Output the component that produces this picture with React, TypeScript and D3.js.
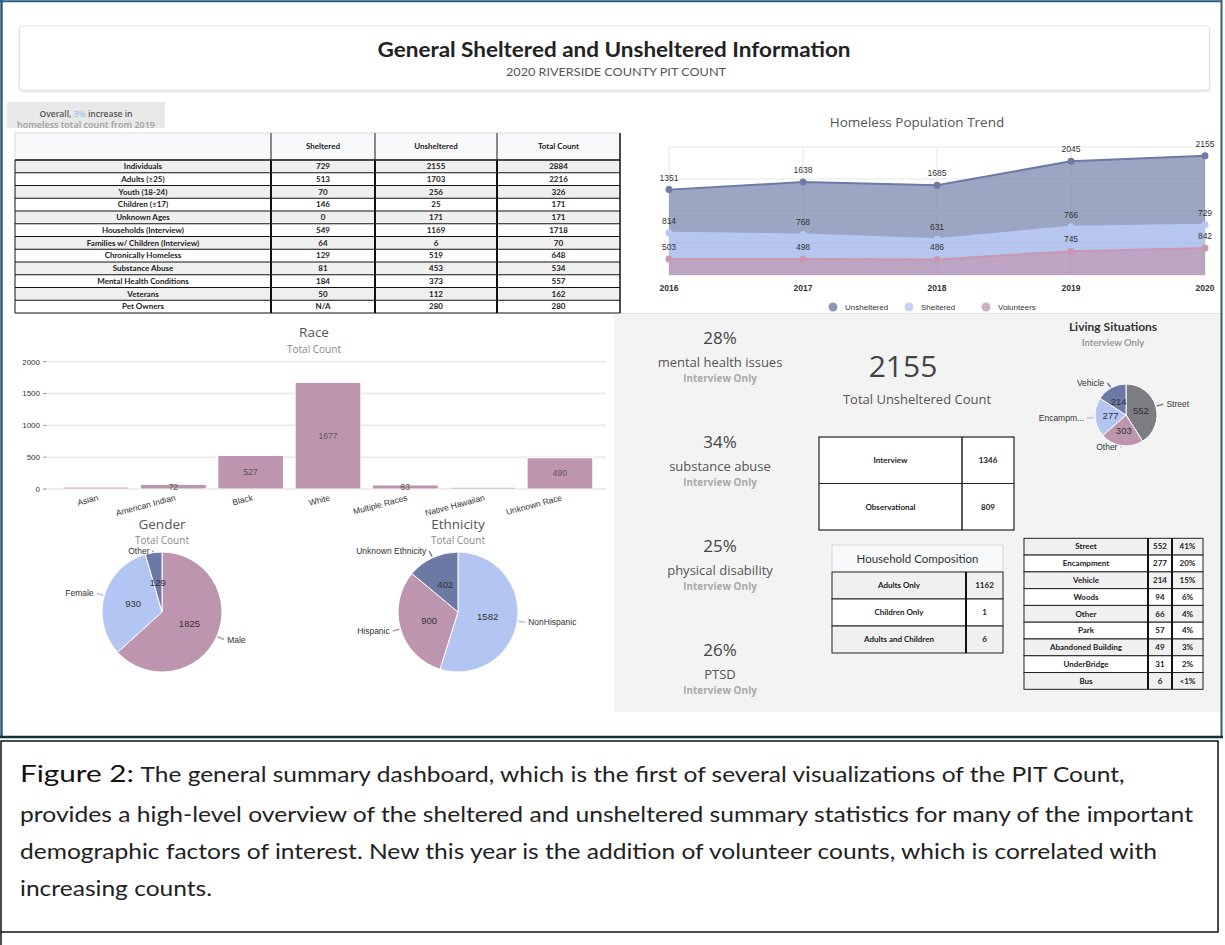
import React from "react";
import * as d3 from "d3";

// ---------- DATA ----------
const tableRowLabels = [
  "Individuals", "Adults (≥25)", "Youth (18-24)", "Children (≤17)", "Unknown Ages",
  "Households (Interview)", "Families w/ Children (Interview)", "Chronically Homeless",
  "Substance Abuse", "Mental Health Conditions", "Veterans", "Pet Owners",
];
const tableHeaders = ["", "Sheltered", "Unsheltered", "Total Count"];
const tableSheltered = ["729", "513", "70", "146", "0", "549", "64", "129", "81", "184", "50", "N/A"];
const tableUnsheltered = [2155, 1703, 256, 25, 171, 1169, 6, 519, 453, 373, 112, 280];
const tableTotal = [2884, 2216, 326, 171, 171, 1718, 70, 648, 534, 557, 162, 280];

const trendYears = [2016, 2017, 2018, 2019, 2020];
const trendUnsheltered = [1351, 1638, 1685, 2045, 2155];
const trendSheltered = [814, 768, 631, 766, 729];
const trendVolunteers = [503, 498, 486, 745, 842];
const trendYTicks = [0, 1000, 2000, 3000, 4000];

const raceCategories = ["Asian", "American Indian", "Black", "White", "Multiple Races", "Native Hawaiian", "Unknown Race"];
const raceValues = [30, 72, 527, 1677, 63, 27, 490];
const raceYTicks = [0, 500, 1000, 1500, 2000];

const genderLabels = ["Male", "Female", "Other"];
const genderValues = [1825, 930, 129];

const ethnicityLabels = ["NonHispanic", "Hispanic", "Unknown Ethnicity"];
const ethnicityValues = [1582, 900, 402];

const livingPieLabels = ["Street", "Other", "Encampment", "Vehicle"];
const livingPieValues = [552, 303, 277, 214];

const livingTableLabels = ["Street", "Encampment", "Vehicle", "Woods", "Other", "Park", "Abandoned Building", "UnderBridge", "Bus"];
const livingTableCounts = [552, 277, 214, 94, 66, 57, 49, 31, 6];
const livingTablePct = ["41%", "20%", "15%", "6%", "4%", "4%", "3%", "2%", "<1%"];

const statPercents = ["28%", "34%", "25%", "26%"];
const statLabels = ["mental health issues", "substance abuse", "physical disability", "PTSD"];

const unshelteredTotal = 2155;
const interviewLabels = ["Interview", "Observational"];
const interviewValues = [1346, 809];

const householdLabels = ["Adults Only", "Children Only", "Adults and Children"];
const householdValues = [1162, 1, 6];

const captionLines = [
  "The general summary dashboard, which is the first of several visualizations of the PIT Count,",
  "provides a high-level overview of the sheltered and unsheltered summary statistics for many of the important",
  "demographic factors of interest. New this year is the addition of volunteer counts, which is correlated with",
  "increasing counts.",
];

// ---------- STYLE ----------
const HC = "'Liberation Sans', Arial, sans-serif";
const UI = "'Open Sans', sans-serif";
const LATO = "Lato, sans-serif";
const PINK = "#be95af";
const LBLUE = "#b3c5f2";
const SLATE = "#6c79a4";
const GRAYPIE = "#7c7c83";
const FRAME = "#2c5d80";

function Pie(props: {
  cx: number; cy: number; r: number; labels: string[]; values: number[]; colors: string[];
  fontSize: number; offset: number;
}) {
  const { cx, cy, r, labels, values, colors, fontSize, offset } = props;
  const arcs = d3.pie<number>().sort(null).value((d) => d)(values);
  const arcGen = d3.arc<d3.PieArcDatum<number>>().innerRadius(0).outerRadius(r);
  const minY = cy - r - 1;
  const maxY = cy + r + 1;
  return (
    <g>
      {arcs.map((a, i) => (
        <path key={"s" + i} d={arcGen(a) || ""} transform={`translate(${cx},${cy})`} fill={colors[i]} stroke="#fff" strokeWidth={1} />
      ))}
      {arcs.map((a, i) => {
        const [x, y] = arcGen.centroid(a);
        return (
          <text key={"v" + i} x={cx + x} y={cy + y} dy="0.35em" textAnchor="middle" fontFamily={HC} fontSize={fontSize} fill="#333">
            {values[i]}
          </text>
        );
      })}
      {arcs.map((a, i) => {
        const m = (a.startAngle + a.endAngle) / 2;
        const s = Math.sin(m);
        const c = -Math.cos(m);
        const p1 = [cx + s * (r + 1), cy + c * (r + 1)];
        const p2 = [cx + s * (r + offset), Math.min(maxY, Math.max(minY, cy + c * (r + offset)))];
        const right = s >= 0;
        const tx = p2[0] + (right ? 3 : -3);
        const lbl = labels[i].length > 9 && r < 40 ? labels[i].slice(0, 7) + "..." : labels[i];
        return (
          <g key={"l" + i}>
            <path d={`M${p1[0]},${p1[1]}L${p2[0]},${p2[1]}`} stroke={colors[i]} strokeWidth={1.5} fill="none" />
            <text x={tx} y={p2[1]} dy="0.35em" textAnchor={right ? "start" : "end"} fontFamily={HC} fontSize={fontSize - 1} fill="#333">
              {lbl}
            </text>
          </g>
        );
      })}
    </g>
  );
}

function MainTable() {
  const colX = [15, 271, 375, 497, 620];
  const top = 133, headBot = 160, rowH = 12.75;
  const n = tableRowLabels.length;
  const bottom = headBot + n * rowH;
  const centers = colX.slice(0, 4).map((x, i) => (x + colX[i + 1]) / 2);
  const cols = [tableRowLabels, tableSheltered, tableUnsheltered.map(String), tableTotal.map(String)];
  return (
    <g fontFamily={LATO} fontWeight={700} fontSize={8} fill="#222">
      <rect x={colX[0]} y={top} width={colX[4] - colX[0]} height={headBot - top} fill="#f8f9fb" stroke="#dcdcdc" strokeWidth={1} />
      {tableHeaders.map((h, i) => (
        <text key={"h" + i} x={centers[i]} y={(top + headBot) / 2} dy="0.35em" textAnchor="middle">{h}</text>
      ))}
      {[1, 2, 3].map((i) => (
        <line key={"hv" + i} x1={colX[i]} x2={colX[i]} y1={top} y2={headBot} stroke="#8a8a8a" strokeWidth={2} />
      ))}
      {tableRowLabels.map((_, r) => (
        <rect key={"r" + r} x={colX[0]} y={headBot + r * rowH} width={colX[4] - colX[0]} height={rowH} fill={r % 2 === 0 ? "#efefef" : "#ffffff"} />
      ))}
      {d3.range(n + 1).map((r) => (
        <line key={"hl" + r} x1={colX[0]} x2={colX[4]} y1={headBot + r * rowH} y2={headBot + r * rowH} stroke="#111" strokeWidth={r === 0 ? 1.5 : 1} />
      ))}
      {[1, 2, 3].map((i) => (
        <line key={"v" + i} x1={colX[i]} x2={colX[i]} y1={headBot} y2={bottom} stroke="#111" strokeWidth={2} />
      ))}
      <line x1={colX[0]} x2={colX[0]} y1={headBot} y2={bottom} stroke="#111" strokeWidth={1} />
      <line x1={colX[4]} x2={colX[4]} y1={top} y2={bottom} stroke="#111" strokeWidth={1.5} />
      {cols.map((col, c) =>
        col.map((v, r) => (
          <text key={c + "-" + r} x={centers[c]} y={headBot + r * rowH + rowH / 2} dy="0.35em" textAnchor="middle">{v}</text>
        ))
      )}
    </g>
  );
}

function TrendChart() {
  const xs = d3.scalePoint<number>().domain(trendYears).range([669, 1205]);
  const ys = d3.scaleLinear().domain([0, 4000]).range([275, 147]);
  const rows = trendYears.map((y, i) => ({
    year: y, volunteers: trendVolunteers[i], sheltered: trendSheltered[i], unsheltered: trendUnsheltered[i],
  }));
  const keys = ["volunteers", "sheltered", "unsheltered"];
  const stacked = d3.stack<any>().keys(keys)(rows);
  const colors: Record<string, { line: string; fill: string; legend: string }> = {
    unsheltered: { line: "#6d79a6", fill: "#7b88af", legend: "#8d96b9" },
    sheltered: { line: "#b5c8f5", fill: "#9db3ea", legend: "#c6d4f7" },
    volunteers: { line: "#c897b1", fill: "#a585ad", legend: "#d2b0c3" },
  };
  const rawVals: Record<string, number[]> = { unsheltered: trendUnsheltered, sheltered: trendSheltered, volunteers: trendVolunteers };
  const area = d3.area<any>().x((d: any) => xs(d.data.year)!).y0((d: any) => ys(d[0])).y1((d: any) => ys(d[1]));
  const line = d3.line<any>().x((d: any) => xs(d.data.year)!).y((d: any) => ys(d[1]));
  const legendItems = [
    { key: "unsheltered", name: "Unsheltered", x: 833 },
    { key: "sheltered", name: "Sheltered", x: 909 },
    { key: "volunteers", name: "Volunteers", x: 986 },
  ];
  return (
    <g>
      <text x={917} y={122} dy="0.35em" textAnchor="middle" fontFamily={UI} fontSize={13.5} fill="#555">Homeless Population Trend</text>
      {trendYTicks.map((t) => (
        <line key={"g" + t} x1={669} x2={1205} y1={ys(t)} y2={ys(t)} stroke="#e6e6e6" strokeWidth={1} />
      ))}
      {trendYears.map((y) => (
        <line key={"vg" + y} x1={xs(y)} x2={xs(y)} y1={147} y2={275} stroke="#e6e6e6" strokeWidth={1} />
      ))}
      {stacked.map((s) => (
        <path key={"a" + s.key} d={area(s as any) || ""} fill={colors[s.key].fill} fillOpacity={0.75} />
      ))}
      {stacked.map((s) => (
        <path key={"l" + s.key} d={line(s as any) || ""} fill="none" stroke={colors[s.key].line} strokeWidth={2} />
      ))}
      {stacked.map((s) =>
        s.map((d: any, i: number) => (
          <circle key={s.key + i} cx={xs(d.data.year)} cy={ys(d[1])} r={3.5} fill={colors[s.key].line} />
        ))
      )}
      {stacked.map((s) =>
        s.map((d: any, i: number) => (
          <text key={"t" + s.key + i} x={xs(d.data.year)} y={ys(d[1]) - 12} dy="0.35em" textAnchor="middle" fontFamily={HC} fontSize={8.5} fill="#333">
            {rawVals[s.key][i]}
          </text>
        ))
      )}
      {trendYears.map((y) => (
        <text key={"x" + y} x={xs(y)} y={288} dy="0.35em" textAnchor="middle" fontFamily={HC} fontSize={8.5} fontWeight={700} fill="#333">{y}</text>
      ))}
      {legendItems.map((it) => (
        <g key={"lg" + it.key}>
          <circle cx={it.x} cy={307} r={4.5} fill={colors[it.key].legend} />
          <text x={it.x + 12} y={307} dy="0.35em" fontFamily={HC} fontSize={8} fill="#333">{it.name}</text>
        </g>
      ))}
    </g>
  );
}

function RaceChart() {
  const xb = d3.scaleBand<string>().domain(raceCategories).range([57, 599]).paddingInner(0.15).paddingOuter(0.08);
  const y = d3.scaleLinear().domain([0, 2000]).range([489, 361.7]);
  return (
    <g>
      <text x={314} y={332} dy="0.35em" textAnchor="middle" fontFamily={UI} fontSize={13.5} fill="#555">Race</text>
      <text x={314} y={349} dy="0.35em" textAnchor="middle" fontFamily={UI} fontSize={10} fill="#888">Total Count</text>
      {raceYTicks.map((t) => (
        <g key={"yt" + t}>
          <line x1={48} x2={606} y1={y(t)} y2={y(t)} stroke="#ececec" strokeWidth={2} />
          <line x1={43} x2={47} y1={y(t)} y2={y(t)} stroke="#999" strokeWidth={1} />
          <text x={40} y={y(t)} dy="0.35em" textAnchor="end" fontFamily={HC} fontSize={8} fill="#333">{t}</text>
        </g>
      ))}
      {raceCategories.map((c, i) => (
        <rect key={"b" + c} x={xb(c)} y={y(raceValues[i])} width={xb.bandwidth()} height={y(0) - y(raceValues[i])} fill={PINK} stroke="#fff" strokeWidth={1} />
      ))}
      {raceCategories.map((c, i) =>
        raceValues[i] >= 50 ? (
          <text key={"bl" + c} x={xb(c)! + xb.bandwidth() / 2} y={(y(raceValues[i]) + y(0)) / 2} dy="0.35em" textAnchor="middle" fontFamily={HC} fontSize={8.5} fill="#555">
            {raceValues[i]}
          </text>
        ) : null
      )}
      {raceCategories.map((c) => (
        <text key={"xl" + c} transform={`translate(${xb(c)! + xb.bandwidth() / 2 + 1},${494}) rotate(-15)`} dy="0.75em" textAnchor="end" fontFamily={HC} fontSize={8.5} fill="#333">
          {c}
        </text>
      ))}
    </g>
  );
}

function GenderEthnicity() {
  return (
    <g>
      <text x={162} y={524} dy="0.35em" textAnchor="middle" fontFamily={UI} fontSize={13.5} fill="#555">Gender</text>
      <text x={162} y={540} dy="0.35em" textAnchor="middle" fontFamily={UI} fontSize={10} fill="#888">Total Count</text>
      <Pie cx={162} cy={612} r={60} labels={genderLabels} values={genderValues} colors={[PINK, LBLUE, SLATE]} fontSize={9.5} offset={8} />
      <text x={458} y={524} dy="0.35em" textAnchor="middle" fontFamily={UI} fontSize={13.5} fill="#555">Ethnicity</text>
      <text x={458} y={540} dy="0.35em" textAnchor="middle" fontFamily={UI} fontSize={10} fill="#888">Total Count</text>
      <Pie cx={458} cy={612} r={60} labels={ethnicityLabels} values={ethnicityValues} colors={[LBLUE, PINK, SLATE]} fontSize={9.5} offset={8} />
    </g>
  );
}

function RightPanel() {
  const statY = [338, 442, 546, 650];
  const ivX = [819, 962, 1014];
  const ivY = [437, 483.5, 530];
  const hcX = [832, 966, 1003];
  const hcTop = 545, hcHead = 572, hcRow = 27;
  const ltX = [1024, 1148, 1172, 1203];
  const ltTop = 538.3, ltRow = 16.78;
  return (
    <g>
      <rect x={614} y={314} width={607} height={398} fill="#f3f3f3" />
      {statPercents.map((p, i) => (
        <g key={"st" + i}>
          <text x={720} y={statY[i]} dy="0.35em" textAnchor="middle" fontFamily={UI} fontSize={17} fill="#444">{p}</text>
          <text x={720} y={statY[i] + 24} dy="0.35em" textAnchor="middle" fontFamily={UI} fontSize={13} fill="#555">{statLabels[i]}</text>
          <text x={720} y={statY[i] + 40} dy="0.35em" textAnchor="middle" fontFamily={UI} fontSize={10} fontWeight={700} fill="#aaa">Interview Only</text>
        </g>
      ))}
      <text x={903} y={366} dy="0.35em" textAnchor="middle" fontFamily={UI} fontSize={30} fill="#444">{unshelteredTotal}</text>
      <text x={917} y={399} dy="0.35em" textAnchor="middle" fontFamily={UI} fontSize={13} fill="#555">Total Unsheltered Count</text>

      {/* interview table */}
      <g fontFamily={LATO} fontWeight={700} fontSize={8} fill="#222">
        <rect x={ivX[0]} y={ivY[0]} width={ivX[2] - ivX[0]} height={ivY[2] - ivY[0]} fill="#fff" stroke="#222" strokeWidth={1.2} />
        <line x1={ivX[0]} x2={ivX[2]} y1={ivY[1]} y2={ivY[1]} stroke="#222" strokeWidth={1.2} />
        <line x1={ivX[1]} x2={ivX[1]} y1={ivY[0]} y2={ivY[2]} stroke="#222" strokeWidth={1.5} />
        {interviewLabels.map((l, i) => (
          <g key={"iv" + i}>
            <text x={(ivX[0] + ivX[1]) / 2} y={(ivY[i] + ivY[i + 1]) / 2} dy="0.35em" textAnchor="middle">{l}</text>
            <text x={(ivX[1] + ivX[2]) / 2} y={(ivY[i] + ivY[i + 1]) / 2} dy="0.35em" textAnchor="middle">{interviewValues[i]}</text>
          </g>
        ))}
      </g>

      {/* household composition */}
      <g fontFamily={LATO} fontWeight={700} fontSize={8} fill="#222">
        <rect x={hcX[0]} y={hcTop} width={hcX[2] - hcX[0]} height={hcHead - hcTop} fill="#f8f9fb" stroke="#d8d8d8" />
        <text x={(hcX[0] + hcX[2]) / 2} y={(hcTop + hcHead) / 2} dy="0.35em" textAnchor="middle" fontWeight={400} fontSize={11.5} fill="#333">Household Composition</text>
        {householdLabels.map((l, i) => (
          <g key={"hc" + i}>
            <rect x={hcX[0]} y={hcHead + i * hcRow} width={hcX[2] - hcX[0]} height={hcRow} fill={i % 2 === 0 ? "#f0f0f0" : "#fff"} stroke="#222" strokeWidth={1} />
            <text x={(hcX[0] + hcX[1]) / 2} y={hcHead + i * hcRow + hcRow / 2} dy="0.35em" textAnchor="middle">{l}</text>
            <text x={(hcX[1] + hcX[2]) / 2} y={hcHead + i * hcRow + hcRow / 2} dy="0.35em" textAnchor="middle">{householdValues[i]}</text>
          </g>
        ))}
        <line x1={hcX[1]} x2={hcX[1]} y1={hcHead} y2={hcHead + 3 * hcRow} stroke="#111" strokeWidth={2} />
      </g>

      {/* living situations table */}
      <g fontFamily={LATO} fontWeight={700} fontSize={8} fill="#222">
        {livingTableLabels.map((l, i) => {
          const y0 = ltTop + i * ltRow;
          return (
            <g key={"lt" + i}>
              <rect x={ltX[0]} y={y0} width={ltX[3] - ltX[0]} height={ltRow} fill={i % 2 === 0 ? "#f0f0f0" : "#fff"} stroke="#222" strokeWidth={1} />
              <text x={(ltX[0] + ltX[1]) / 2} y={y0 + ltRow / 2} dy="0.35em" textAnchor="middle">{l}</text>
              <text x={(ltX[1] + ltX[2]) / 2} y={y0 + ltRow / 2} dy="0.35em" textAnchor="middle">{livingTableCounts[i]}</text>
              <text x={(ltX[2] + ltX[3]) / 2} y={y0 + ltRow / 2} dy="0.35em" textAnchor="middle">{livingTablePct[i]}</text>
            </g>
          );
        })}
        {[1, 2].map((i) => (
          <line key={"ltv" + i} x1={ltX[i]} x2={ltX[i]} y1={ltTop} y2={ltTop + 9 * ltRow} stroke="#111" strokeWidth={2} />
        ))}
      </g>

      {/* living situations pie */}
      <text x={1113} y={327} dy="0.35em" textAnchor="middle" fontFamily={LATO} fontWeight={700} fontSize={12} fill="#333">Living Situations</text>
      <text x={1113} y={343} dy="0.35em" textAnchor="middle" fontFamily={LATO} fontWeight={700} fontSize={9.5} fill="#999">Interview Only</text>
      <Pie cx={1126} cy={415} r={31} labels={livingPieLabels} values={livingPieValues} colors={[GRAYPIE, PINK, LBLUE, SLATE]} fontSize={9.5} offset={8} />
    </g>
  );
}

export default function App() {
  return (
    <div style={{ position: "absolute", left: 0, top: 0, width: 1225, height: 945, background: "#fff" }}>
      <svg width={1225} height={945} viewBox="0 0 1225 945" style={{ display: "block" }}>
        <defs>
          <filter id="shadow" x="-5%" y="-20%" width="110%" height="150%">
            <feDropShadow dx="0" dy="1" stdDeviation="1.2" floodColor="#000" floodOpacity="0.15" />
          </filter>
          <clipPath id="badgeClip">
            <rect x={0} y={100} width={200} height={30} />
          </clipPath>
        </defs>
        <rect x={0} y={0} width={1225} height={945} fill="#fff" />

        {/* title card */}
        <rect x={19.5} y={26} width={1190} height={64} rx={3} fill="#fff" stroke="#e2e2e2" filter="url(#shadow)" />
        <text x={614} y={50} dy="0.35em" textAnchor="middle" fontFamily={LATO} fontWeight={700} fontSize={20} fill="#222" textLength={473} lengthAdjust="spacingAndGlyphs">
          General Sheltered and Unsheltered Information
        </text>
        <text x={616} y={72} dy="0.35em" textAnchor="middle" fontFamily={LATO} fontSize={10.5} fill="#555" textLength={220} lengthAdjust="spacingAndGlyphs">
          2020 RIVERSIDE COUNTY PIT COUNT
        </text>

        {/* overall badge */}
        <rect x={7} y={102} width={158} height={26} fill="#e8e8e8" />
        <g clipPath="url(#badgeClip)">
          <text x={86} y={114.5} dy="0.35em" textAnchor="middle" fontFamily={UI} fontWeight={600} fontSize={8.5} fill="#555">
            Overall, <tspan fill="#a9bcf0">3%</tspan> increase in
          </text>
          <text x={86} y={125.5} dy="0.35em" textAnchor="middle" fontFamily={UI} fontWeight={600} fontSize={8.5} fill="#a0a0a0" textLength={138} lengthAdjust="spacingAndGlyphs">
            homeless total count from 2019
          </text>
        </g>

        <MainTable />
        <TrendChart />
        <line x1={620} x2={1221} y1={313.5} y2={313.5} stroke="#e0e0e0" strokeWidth={1} />
        <RaceChart />
        <GenderEthnicity />
        <RightPanel />

        {/* outer frame */}
        <line x1={1.5} x2={1.5} y1={0} y2={737} stroke={FRAME} strokeWidth={2.5} />
        <line x1={0} x2={1222} y1={1.2} y2={1.2} stroke={FRAME} strokeWidth={2} />
        <line x1={1221.5} x2={1221.5} y1={0} y2={737} stroke={FRAME} strokeWidth={2} />
        <line x1={0} x2={1223} y1={737} y2={737} stroke="#13303f" strokeWidth={2.5} />

        {/* caption */}
        <rect x={1} y={741} width={1217} height={191} fill="#fff" stroke="#111" strokeWidth={1.5} />
        <line x1={1} x2={1} y1={932} y2={945} stroke="#111" strokeWidth={1.5} />
        <text x={20} y={774} dy="0.35em" fontFamily={LATO} fontSize={24} fill="#111" textLength={114} lengthAdjust="spacingAndGlyphs">
          Figure 2:
        </text>
        <text x={140.5} y={775} dy="0.35em" fontFamily={LATO} fontSize={20.5} fill="#222" textLength={984} lengthAdjust="spacingAndGlyphs">
          {captionLines[0]}
        </text>
        <text x={20} y={815} dy="0.35em" fontFamily={LATO} fontSize={20.5} fill="#222" textLength={1173} lengthAdjust="spacingAndGlyphs">
          {captionLines[1]}
        </text>
        <text x={20} y={852} dy="0.35em" fontFamily={LATO} fontSize={20.5} fill="#222" textLength={1137} lengthAdjust="spacingAndGlyphs">
          {captionLines[2]}
        </text>
        <text x={20} y={889} dy="0.35em" fontFamily={LATO} fontSize={20.5} fill="#222" textLength={192} lengthAdjust="spacingAndGlyphs">
          {captionLines[3]}
        </text>
      </svg>
    </div>
  );
}
